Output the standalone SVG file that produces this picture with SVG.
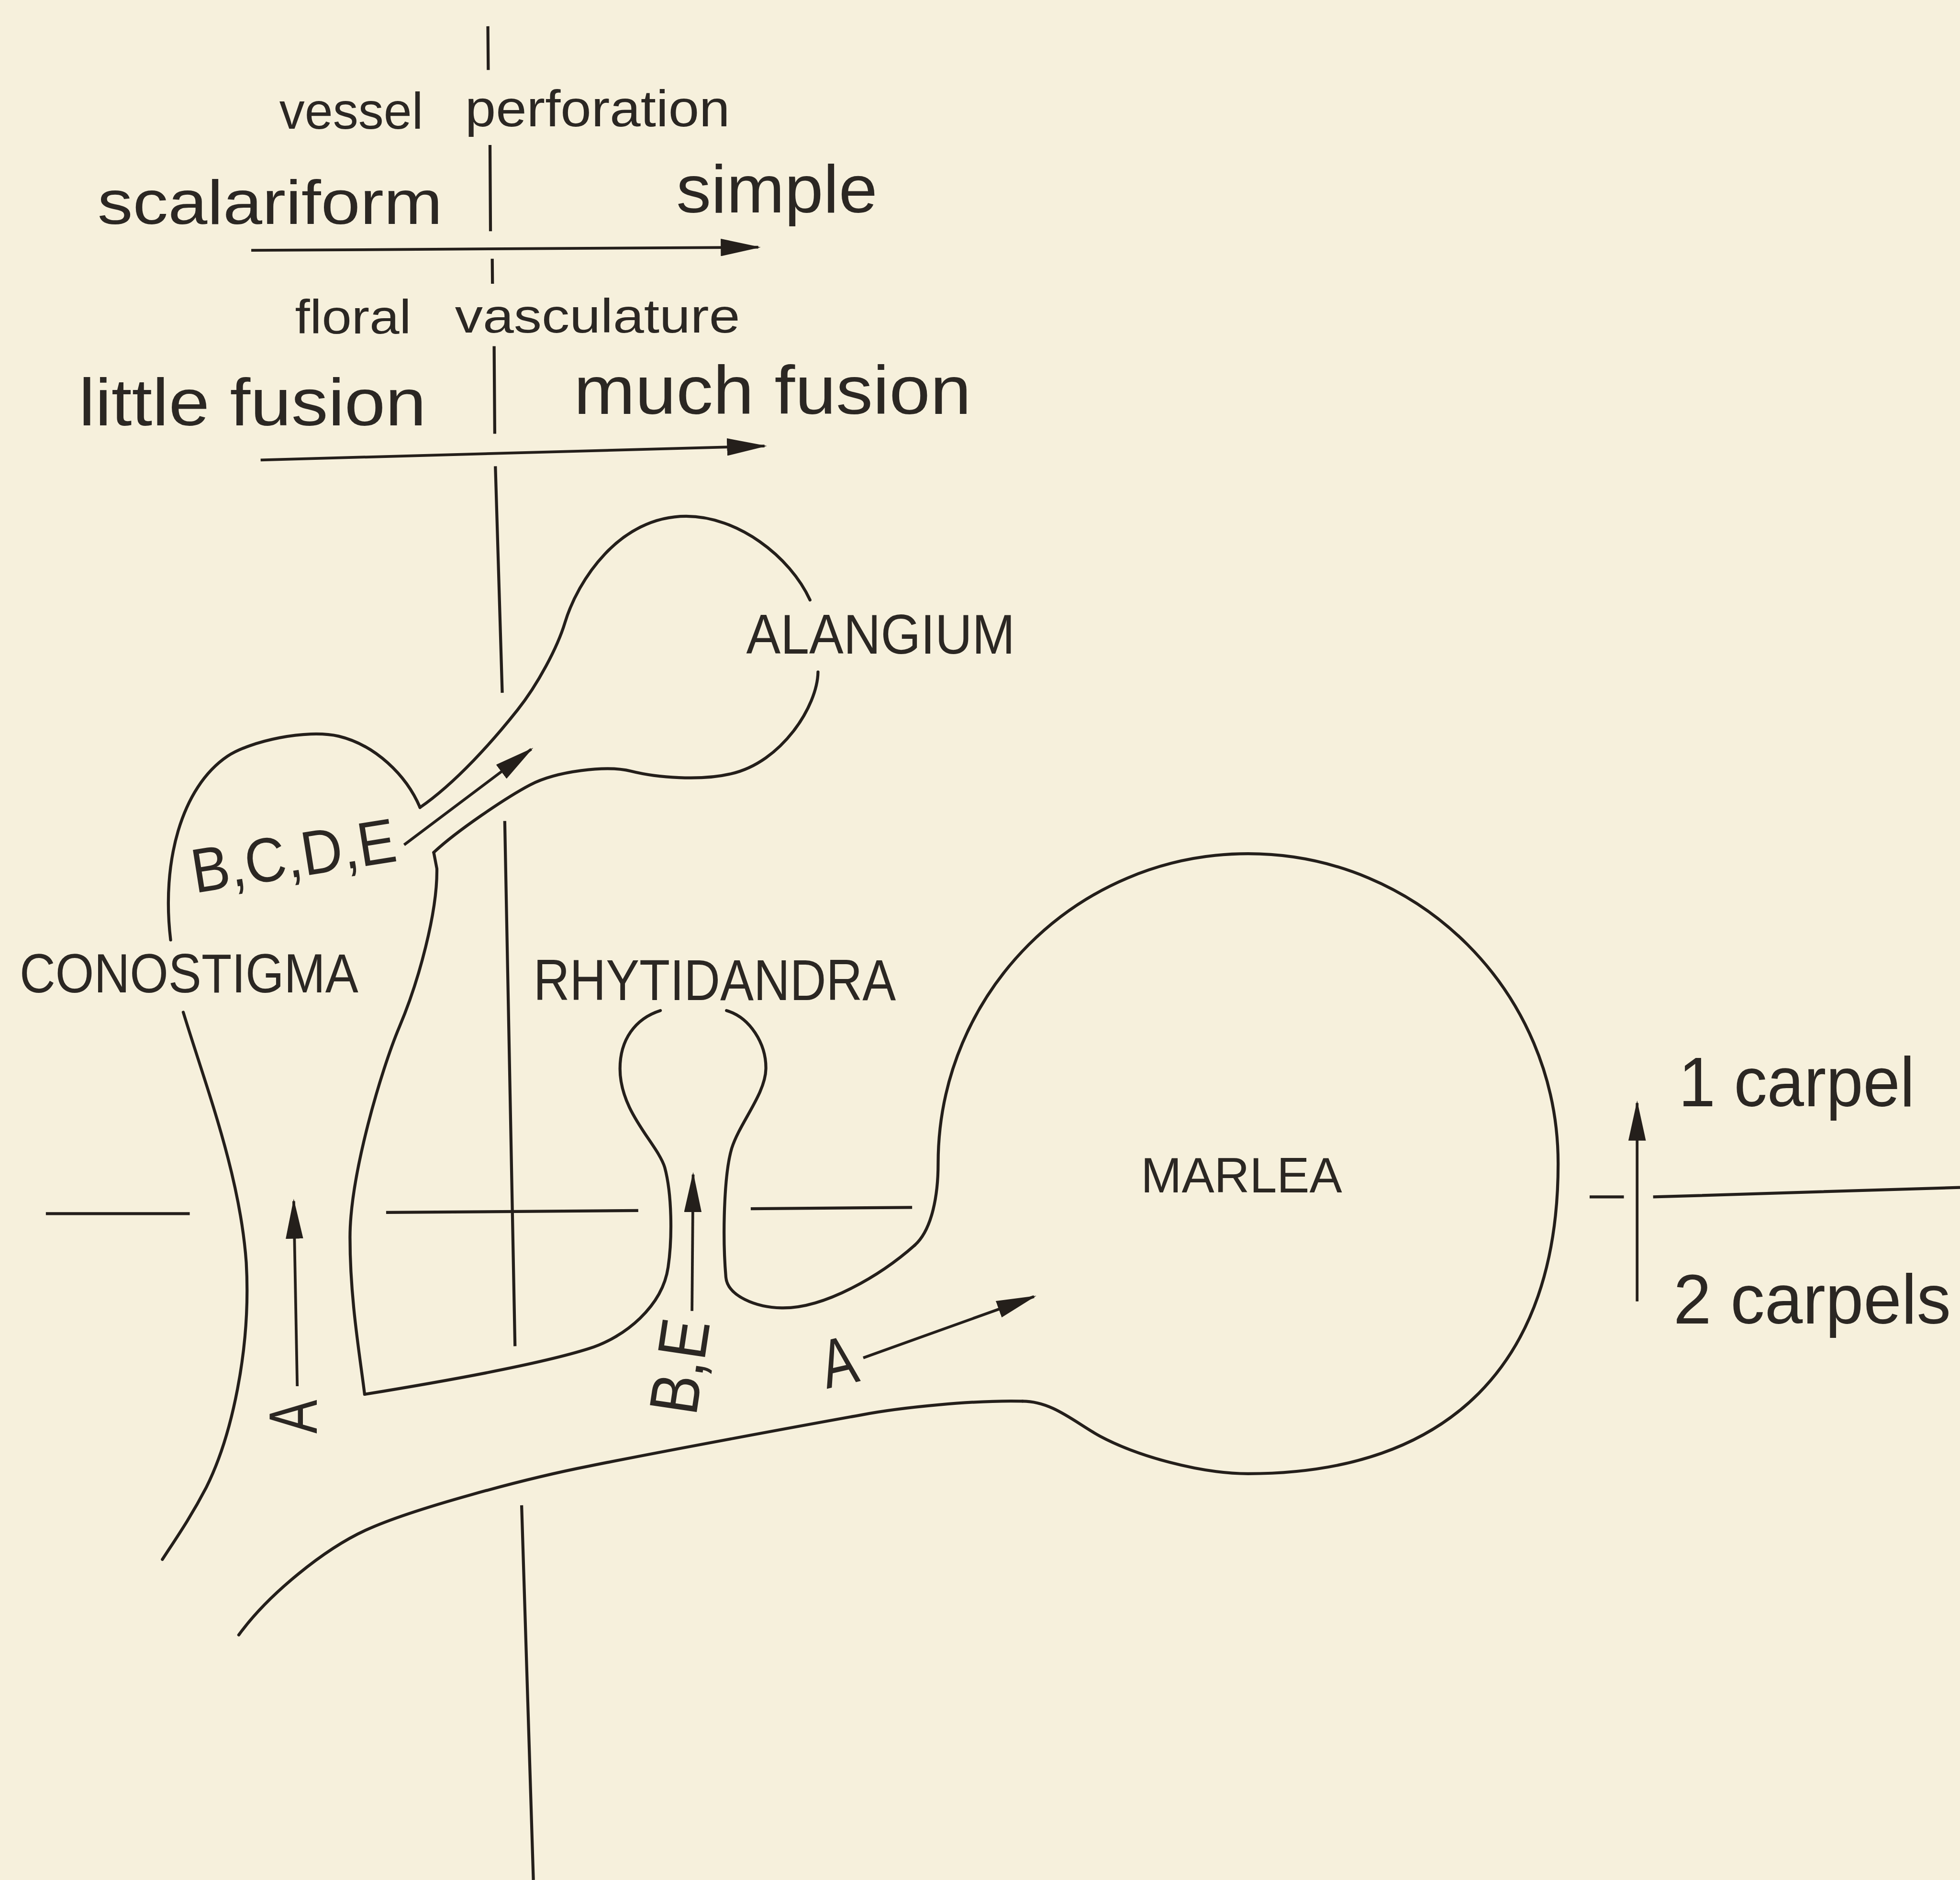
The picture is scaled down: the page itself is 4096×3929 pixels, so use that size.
<svg xmlns="http://www.w3.org/2000/svg" width="4096" height="3929" viewBox="0 0 4096 3929">
<defs>
<style>
.ln{fill:none;stroke:#241f1b;stroke-width:2.4;stroke-linecap:round;stroke-linejoin:round}
.ax{fill:none;stroke:#241f1b;stroke-width:2.4;stroke-linecap:butt}
.ar{fill:none;stroke:#241f1b;stroke-width:2.2;stroke-linecap:butt;marker-end:url(#ah)}
text{font-family:"Liberation Sans Narrow","Liberation Sans",Arial,sans-serif;fill:#2b2723}
</style>
<marker id="ah" markerUnits="userSpaceOnUse" viewBox="0 0 32 14" markerWidth="32" markerHeight="14" refX="30" refY="7" orient="auto"><path d="M0,0 L32,7 L0,14 Z" fill="#241f1b"/></marker>
</defs>
<rect width="4096" height="3929" fill="#f6f0dc"/>
<g transform="scale(2.612245)">
<g id="axes">
<path class="ax" d="M390.3,21 L390.6,56 M392,116 L392.4,185 M393.8,207 L394,227 M395.3,277 L395.8,347 M396.3,373 L401.8,554.3 M403.8,656.8 L412,1077 M417.3,1204.3 L426.7,1504"/>
<path class="ax" d="M36.7,971 L151.8,971 M308.9,970 L510.6,968.5 M600.6,967 L729.7,966 M1271.7,957.6 L1299.1,957.6 M1322.5,957.6 L1568,950"/>
</g>
<g id="label-vessel-perforation">
<text x="223.5" y="103" font-size="41" textLength="115" lengthAdjust="spacingAndGlyphs">vessel</text>
<text x="372" y="101" font-size="41" textLength="212" lengthAdjust="spacingAndGlyphs">perforation</text>
</g>
<g id="label-scalariform"><text x="78" y="179" font-size="50" textLength="276" lengthAdjust="spacingAndGlyphs">scalariform</text></g>
<g id="label-simple"><text x="541" y="170" font-size="54" textLength="161" lengthAdjust="spacingAndGlyphs">simple</text></g>
<g id="label-floral-vasculature">
<text x="236" y="267" font-size="38" textLength="93" lengthAdjust="spacingAndGlyphs">floral</text>
<text x="364" y="266" font-size="38" textLength="228" lengthAdjust="spacingAndGlyphs">vasculature</text>
</g>
<g id="label-little-fusion"><text x="63" y="340.5" font-size="53" textLength="278" lengthAdjust="spacingAndGlyphs">little fusion</text></g>
<g id="label-much-fusion"><text x="459" y="331" font-size="55" textLength="318" lengthAdjust="spacingAndGlyphs">much fusion</text></g>
<g id="label-carpels">
<text x="1342.8" y="885" font-size="56" textLength="189" lengthAdjust="spacingAndGlyphs">1 carpel</text>
<text x="1338.7" y="1059" font-size="56" textLength="222" lengthAdjust="spacingAndGlyphs">2 carpels</text>
</g>
<g id="node-conostigma">
<path class="ln" d="M146.6,809.8 C165,870 192,940 197,1010 C201,1080 185,1150 165,1190 C152,1215 140,1232 129.9,1247.6"/>
<path class="ln" d="M136.5,752 C129,690 145,630 182,605 C200,593 245,583 271,589 C300,596 325,620 336,646"/>
<path class="ln" d="M347,682 L349.5,695 C350,730 335,785 319.4,821.8 C305,856 280,940 280,990 C280,1040 288,1085 291.7,1115.5"/>
<text x="15.7" y="794" font-size="44" textLength="271" lengthAdjust="spacingAndGlyphs">CONOSTIGMA</text>
</g>
<g id="node-alangium">
<path class="ln" d="M336,646 C365,626 395,592 414,568 C430,548 446,518 452,498 C462,465 495,413 549,413 C590,413 632,445 648,480"/>
<path class="ln" d="M654.4,537.6 C654,565 625,610 585,619 C560,625 525,622 505,617 C485,612 445,617 424,628 C405,638 365,665 347,682"/>
<text x="597" y="523" font-size="45" textLength="215" lengthAdjust="spacingAndGlyphs">ALANGIUM</text>
</g>
<g id="node-rhytidandra">
<path class="ln" d="M291.7,1115.5 C350,1106 430,1092 471,1079 C500,1070 530,1045 534.5,1013.8 C538,990 537.5,955 531.8,934 C526,915 496,890 496,855 C496,832 508,815 528.3,808.5"/>
<path class="ln" d="M581.2,808.5 C600,814 613,835 612.7,855 C612.4,875 592,898 585.4,918.6 C579,940 578,990 580.7,1021.7 C582,1037 605,1046 625.3,1046.4 C660,1047 705,1020 731.8,996.2"/>
<text x="426.7" y="800" font-size="46" textLength="290" lengthAdjust="spacingAndGlyphs">RHYTIDANDRA</text>
</g>
<g id="node-marlea">
<path class="ln" d="M731.8,996.2 C746,983.5 750.5,955 750.5,931 C750.5,794 861.5,683 998.5,683 C1135.5,683 1246.5,794 1246.5,931 C1246.5,1090 1160,1179 998.5,1179 C960,1179 910,1165 880,1149 C860,1138 842,1121 818,1121"/>
<path class="ln" d="M818,1121 C780,1120 720,1126 689,1132 C650,1139 530,1161 471,1173 C420,1183 330,1207 293,1224 C260,1239 215,1275 191,1308"/>
<text x="912.7" y="954" font-size="40" textLength="161" lengthAdjust="spacingAndGlyphs">MARLEA</text>
</g>
<g id="connectors">
<path class="ar" d="M201,200.3 L606.6,197.8"/>
<path class="ar" d="M208.5,368 L611.6,356.8"/>
<path class="ar" d="M323.3,675.9 L425,599.4"/>
<path class="ar" d="M237.8,1109 L235,961"/>
<path class="ar" d="M553.6,1048.8 L554.5,939.7"/>
<path class="ar" d="M690.6,1086.3 L827.2,1037.3"/>
<path class="ar" d="M1309.7,1041.2 L1309.7,882.5"/>
</g>
<g id="connector-labels">
<text transform="translate(156,714.5) rotate(-9)" font-size="50" textLength="165" lengthAdjust="spacingAndGlyphs">B,C,D,E</text>
<text transform="translate(253.5,1133.4) rotate(-90)" text-anchor="middle" font-size="55" textLength="27" lengthAdjust="spacingAndGlyphs">A</text>
<text transform="translate(556.8,1133.5) rotate(-81.5)" font-size="55" textLength="76" lengthAdjust="spacingAndGlyphs">B,E</text>
<text transform="translate(675,1108) rotate(-13)" text-anchor="middle" font-size="55" textLength="28" lengthAdjust="spacingAndGlyphs">A</text>
</g>
</g>
</svg>
